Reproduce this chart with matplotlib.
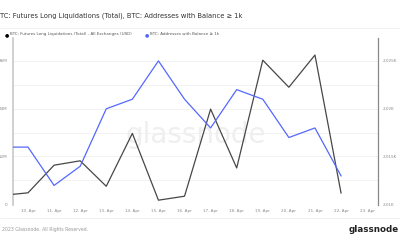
import matplotlib

matplotlib.use("Agg")

import matplotlib.pyplot as plt
import matplotlib.dates as mdates
import pandas as pd

# daily values, 9 Apr is only partly visible at the left edge
dates = pd.to_datetime([
    "2023-04-09", "2023-04-10", "2023-04-11", "2023-04-12", "2023-04-13",
    "2023-04-14", "2023-04-15", "2023-04-16", "2023-04-17", "2023-04-18",
    "2023-04-19", "2023-04-20", "2023-04-21", "2023-04-22",
])
long_liq_musd = [2.2, 2.85, 9.8, 10.9, 4.5, 17.8, 1.0, 2.0, 23.9, 9.1, 36.2, 29.4, 37.5, 2.8]
addr_1k = [2016, 2016, 2012, 2014, 2020, 2021, 2025, 2021, 2018, 2022, 2021, 2017, 2018, 2013]

left_ticks = [0, 12, 24, 36]
left_labels = ["0", "12M", "24M", "36M"]
right_ticks = [2010, 2015, 2020, 2025]
right_labels = ["2.01K", "2.015K", "2.02K", "2.025K"]
tick_days = pd.date_range("2023-04-10", "2023-04-23", freq="D")

BLACK = "#474747"
BLUE = "#5468ff"
GREY_TXT = "#8a8a8a"

fig = plt.figure(figsize=(4.0, 2.4), dpi=100)
fig.patch.set_facecolor("white")

fig.text(0.0, 0.935, "TC: Futures Long Liquidations (Total), BTC: Addresses with Balance \u2265 1k",
         fontsize=4.9, color="#333333", ha="left", va="center")
fig.add_artist(plt.Line2D([0, 1], [0.885, 0.885], color="#eeeeee", lw=0.6))
fig.add_artist(plt.Line2D([0, 1], [0.092, 0.092], color="#eeeeee", lw=0.6))

# legend row
fig.text(0.012, 0.857, "\u25cf", fontsize=3.5, color="black", va="center")
fig.text(0.024, 0.857, "BTC: Futures Long Liquidations (Total) - All Exchanges (USD)",
         fontsize=2.9, color="#555555", va="center")
fig.text(0.362, 0.857, "\u25cf", fontsize=3.5, color=BLUE, va="center")
fig.text(0.374, 0.857, "BTC: Addresses with Balance \u2265 1k",
         fontsize=2.9, color="#555555", va="center")

# footer
fig.text(0.005, 0.045, "2023 Glassnode. All Rights Reserved.", fontsize=3.3,
         color="#999999", va="center")
fig.text(0.997, 0.045, "glassnode", fontsize=6.3, color="#222222", va="center",
         ha="right", fontweight="bold")

ax = fig.add_axes([0.0325, 0.146, 0.9125, 0.696])
ax2 = ax.twinx()

# watermark
ax.text(0.5, 0.42, "glassnode", transform=ax.transAxes, fontsize=20,
        color="#efefef", ha="center", va="center", zorder=0)

ax.plot(dates, long_liq_musd, color=BLACK, lw=0.9, zorder=3)
ax2.plot(dates, addr_1k, color=BLUE, lw=0.9, zorder=3)

x0 = pd.Timestamp("2023-04-10") - pd.Timedelta(hours=13.8)
x1 = pd.Timestamp("2023-04-22") + pd.Timedelta(hours=34)
ax.set_xlim(x0, x1)
ax.set_ylim(-0.2, 41.8)
ax2.set_ylim(2009.96, 2027.4)

for v in range(6, 42, 6):
    ax.axhline(v, color="#f0f0f0", lw=0.6, zorder=0)

ax.set_yticks(left_ticks)
ax.set_yticklabels(left_labels)
ax2.set_yticks(right_ticks)
ax2.set_yticklabels(right_labels)
ax.set_xticks(tick_days)
ax.xaxis.set_major_formatter(mdates.DateFormatter("%d. %b"))

for a in (ax, ax2):
    a.tick_params(axis="both", length=0, labelsize=3.0, labelcolor=GREY_TXT, pad=3)
    for s in ("top", "bottom"):
        a.spines[s].set_visible(False)
ax.tick_params(axis="y", pad=4)
ax.spines["left"].set_color("#c8c8c8")
ax.spines["left"].set_linewidth(1.2)
ax.spines["right"].set_visible(False)
ax2.spines["left"].set_visible(False)
ax2.spines["right"].set_color("#888888")
ax2.spines["right"].set_linewidth(0.9)
ax2.tick_params(axis="y", pad=3.5)

fig.savefig("out.png", dpi=100, facecolor="white")
plt.close(fig)
